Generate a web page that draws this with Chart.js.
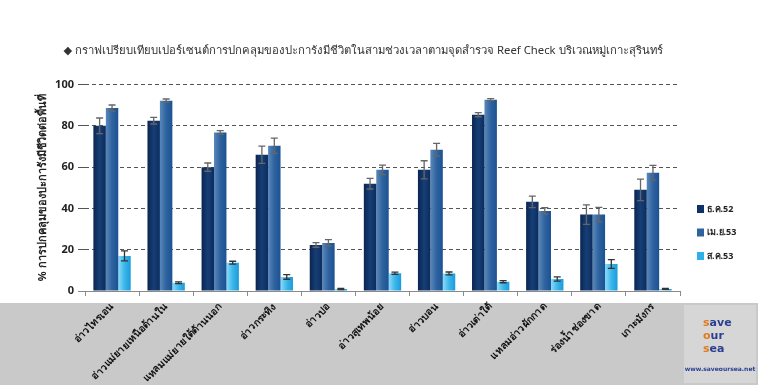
<!DOCTYPE html>
<html>
<head>
<meta charset="utf-8">
<script src="https://cdn.jsdelivr.net/npm/chart.js@4.4.0/dist/chart.umd.min.js"></script>
<style>
  html, body { margin: 0; padding: 0; background: #fff; }
  #wrap { width: 758px; height: 385px; position: relative; }
</style>
</head>
<body>
<div id="wrap"><canvas id="chart"></canvas></div>
<script>
const sites = ['อ่าวไทรเอน', 'อ่าวแม่ยายเหนือด้านใน', 'แหลมแม่ยายใต้ด้านนอก', 'อ่าวกระทิง', 'อ่าวปอ',
  'อ่าวสุเทพน้อย', 'อ่าวบอน', 'อ่าวเต่าใต้', 'แหลมอ่าวผักกาด', 'ร่องน้ำช่องขาด', 'เกาะมังกร'];
const periods = ['ธ.ค.52', 'เม.ย.53', 'ส.ค.53'];

// % cover of live coral per site
const dec52 = [80, 82.5, 60, 66, 22.3, 52, 58.7, 85.4, 43.2, 37, 49];
const apr53 = [88.6, 92.2, 76.8, 70.4, 23.3, 58.7, 68.4, 92.7, 38.8, 37, 57.3];
const aug53 = [17, 4, 13.7, 6.8, 1, 8.6, 8.5, 4.5, 5.8, 13.1, 1];

// standard error
const dec52Err = [3.8, 1.6, 2, 4.2, 1.1, 2.6, 4.4, 1, 2.8, 4.7, 5.2];
const apr53Err = [1.5, 0.8, 0.9, 3.7, 1.6, 2.3, 3.1, 0.5, 1.6, 3.5, 3.6];
const aug53Err = [2.4, 0.4, 0.7, 1.1, 0.3, 0.5, 0.7, 0.5, 1, 2.1, 0.2];

const yTicks = [0, 20, 40, 60, 80, 100];

const title = '◆ กราฟเปรียบเทียบเปอร์เซนต์การปกคลุมของปะการังมีชีวิตในสามช่วงเวลาตามจุดสำรวจ Reef Check บริเวณหมู่เกาะสุรินทร์';
const yTitle = '% การปกคลุมของปะการังมีชีวิตต่อพื้นที่';

const barStops = [
  ['#0a2550', '#163f77', '#0c2c5c'],
  ['#5a88bb', '#2f639f', '#1b5293'],
  ['#8adcfa', '#3cb6ea', '#1a9bdc']
];
const legendColors = ['#0f3266', '#2f639f', '#2fb0e8'];

Chart.defaults.font.family = 'Tahoma, "Noto Sans", "DejaVu Sans", sans-serif';
Chart.defaults.color = '#222';

const errs = [dec52Err, apr53Err, aug53Err];

const bgBand = {
  id: 'bgBand',
  beforeDraw(chart) {
    const { ctx, width, height } = chart;
    const top = chart.scales.x.top + 12;
    ctx.save();
    ctx.fillStyle = '#c9c9c9';
    ctx.fillRect(0, top, width, height - top);
    // logo panel
    ctx.fillStyle = '#d6d6d6';
    ctx.fillRect(width - 74, top + 2, 72, height - top - 4);
    ctx.restore();
  }
};

const gradientBars = {
  id: 'gradientBars',
  beforeDatasetsDraw(chart) {
    const ctx = chart.ctx;
    chart.data.datasets.forEach((ds, i) => {
      chart.getDatasetMeta(i).data.forEach(bar => {
        const g = ctx.createLinearGradient(bar.x - bar.width / 2, 0, bar.x + bar.width / 2, 0);
        const stops = barStops[i];
        stops.forEach((c, k) => g.addColorStop(k / (stops.length - 1), c));
        bar.options = Object.assign({}, bar.options, { backgroundColor: g });
      });
    });
  }
};

const errorBars = {
  id: 'errorBars',
  afterDatasetsDraw(chart) {
    const ctx = chart.ctx;
    const y = chart.scales.y;
    ctx.save();
    ctx.lineWidth = 1.3;
    chart.data.datasets.forEach((ds, i) => {
      ctx.strokeStyle = i === 2 ? '#333' : '#666';
      chart.getDatasetMeta(i).data.forEach((bar, j) => {
        const v = ds.data[j], e = errs[i][j];
        const yT = y.getPixelForValue(v + e);
        const yB = y.getPixelForValue(Math.max(v - e, 0));
        ctx.beginPath();
        ctx.moveTo(bar.x, yT); ctx.lineTo(bar.x, yB);
        ctx.moveTo(bar.x - 3.5, yT); ctx.lineTo(bar.x + 3.5, yT);
        ctx.moveTo(bar.x - 3.5, yB); ctx.lineTo(bar.x + 3.5, yB);
        ctx.stroke();
      });
    });
    ctx.restore();
  }
};

const sideLegend = {
  id: 'sideLegend',
  afterDraw(chart) {
    const ctx = chart.ctx;
    const x0 = chart.chartArea.right + 17;
    ctx.save();
    ctx.font = 'bold 9px Tahoma, "Noto Sans", sans-serif';
    ctx.textBaseline = 'middle';
    chart.data.datasets.forEach((ds, i) => {
      const yc = 209 + i * 23.5;
      ctx.fillStyle = legendColors[i];
      ctx.fillRect(x0, yc - 4, 7, 8);
      ctx.fillStyle = '#222';
      ctx.fillText(ds.label, x0 + 10, yc);
    });
    // site logo text
    ctx.textAlign = 'left';
    ctx.font = 'bold 11px "DejaVu Sans", sans-serif';
    [['s', 'ave', 323], ['o', 'ur', 336], ['s', 'ea', 349]].forEach(([a, b, yy]) => {
      ctx.fillStyle = '#e07a20';
      ctx.fillText(a, 703, yy);
      const w = ctx.measureText(a).width;
      ctx.fillStyle = '#2a3f90';
      ctx.fillText(b, 703 + w, yy);
    });
    ctx.textAlign = 'center';
    ctx.fillStyle = '#2a3f90';
    ctx.font = 'bold 6px "DejaVu Sans", sans-serif';
    ctx.fillText('www.saveoursea.net', 720, 369);
    ctx.restore();
  }
};

new Chart(document.getElementById('chart'), {
  type: 'bar',
  data: {
    labels: sites,
    datasets: [
      { label: periods[0], data: dec52 },
      { label: periods[1], data: apr53 },
      { label: periods[2], data: aug53 }
    ]
  },
  options: {
    responsive: true,
    maintainAspectRatio: false,
    animation: false,
    layout: { padding: { left: 46, right: 78, top: 0, bottom: 0 } },
    datasets: { bar: { categoryPercentage: 0.69, barPercentage: 1.0 } },
    plugins: {
      legend: { display: false },
      tooltip: { enabled: false },
      title: {
        display: true,
        text: title,
        color: '#333',
        font: { size: 11.3, weight: 'normal' },
        padding: { top: 44, bottom: 27 }
      }
    },
    scales: {
      x: {
        afterFit(scale) { scale.height = 94; },
        grid: { drawOnChartArea: false, tickLength: 5, color: '#8a8a8a', offset: true },
        border: { display: true, color: '#8a8a8a' },
        ticks: {
          minRotation: 45, maxRotation: 45, padding: 5,
          color: '#111', font: { size: 10, weight: 'bold' }
        }
      },
      y: {
        min: 0, max: 100,
        afterFit(scale) { scale.width = 39; },
        afterBuildTicks(scale) { scale.ticks = yTicks.map(v => ({ value: v })); },
        grid: {
          color: ctx => ctx.tick && ctx.tick.value === 0 ? '#8a8a8a' : '#555',
          tickLength: 7
        },
        border: { display: false, dash: [4, 3] },
        ticks: { padding: 4, color: '#222', font: { size: 11, weight: 'bold' } },
        title: {
          display: true,
          text: yTitle,
          color: '#222',
          font: { size: 11, weight: 'bold' },
          padding: { top: -10, bottom: 0 }
        }
      }
    }
  },
  plugins: [bgBand, gradientBars, errorBars, sideLegend]
});
</script>
</body>
</html>
